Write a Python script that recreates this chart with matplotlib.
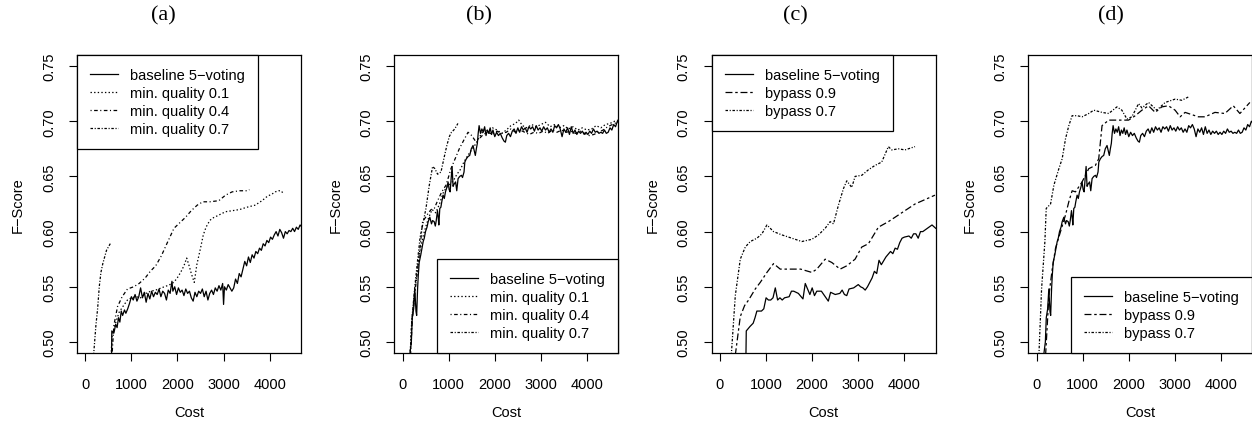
import matplotlib
import matplotlib.pyplot as plt

matplotlib.use("Agg")

plt.rcParams["font.family"] = ["Liberation Sans", "DejaVu Sans"]
plt.rcParams["lines.scale_dashes"] = False

# ---- data (cost, F-score) ----
base_a_x = [570, 575, 620, 660, 690, 720, 750, 780, 810, 850, 880, 920, 960, 1000, 1040, 1080,
            1120, 1160, 1200, 1240, 1280, 1320, 1360, 1400, 1440, 1480, 1520, 1560, 1600, 1640,
            1680, 1720, 1760, 1800, 1840, 1880, 1900, 1940, 1980, 2020, 2060, 2100, 2140, 2180,
            2220, 2260, 2300, 2340, 2380, 2420, 2460, 2500, 2540, 2580, 2620, 2660, 2700, 2740,
            2780, 2820, 2860, 2900, 2940, 2980, 3000, 3020, 3060, 3100, 3140, 3180, 3220, 3260,
            3300, 3340, 3380, 3420, 3460, 3500, 3540, 3580, 3620, 3660, 3700, 3740, 3780, 3820,
            3860, 3900, 3940, 3980, 4020, 4060, 4100, 4140, 4180, 4220, 4260, 4300, 4340, 4380,
            4420, 4460, 4500, 4540, 4580, 4620, 4660, 4700]
base_a_y = [0.488, 0.510, 0.508, 0.516, 0.513, 0.522, 0.518, 0.528, 0.524, 0.529, 0.526, 0.530,
            0.535, 0.541, 0.538, 0.543, 0.537, 0.541, 0.549, 0.540, 0.545, 0.536, 0.544, 0.539,
            0.546, 0.541, 0.545, 0.543, 0.548, 0.541, 0.546, 0.544, 0.538, 0.547, 0.544, 0.555,
            0.546, 0.550, 0.543, 0.549, 0.545, 0.547, 0.542, 0.548, 0.544, 0.546, 0.540, 0.537,
            0.545, 0.541, 0.546, 0.544, 0.548, 0.541, 0.546, 0.538, 0.544, 0.547, 0.543, 0.549,
            0.546, 0.551, 0.547, 0.553, 0.534, 0.550, 0.547, 0.552, 0.549, 0.546, 0.549, 0.557,
            0.553, 0.562, 0.559, 0.566, 0.573, 0.569, 0.577, 0.572, 0.579, 0.576, 0.582, 0.580,
            0.585, 0.583, 0.589, 0.587, 0.592, 0.590, 0.595, 0.593, 0.597, 0.600, 0.596, 0.602,
            0.599, 0.594, 0.600, 0.598, 0.601, 0.600, 0.603, 0.600, 0.604, 0.602, 0.606, 0.604]

q01_a_x = [560, 580, 640, 735, 830, 915, 1000, 1100, 1200, 1312, 1420, 1528, 1650, 1780, 1888,
           1980, 2068, 2140, 2200, 2260, 2300, 2364, 2420, 2500, 2560, 2620, 2700, 2753, 2850,
           3042, 3200, 3350, 3500, 3690, 3760, 3834, 3950, 4050, 4123, 4195, 4250, 4303]
q01_a_y = [0.488, 0.505, 0.515, 0.527, 0.533, 0.538, 0.540, 0.541, 0.540, 0.544, 0.546, 0.547,
           0.549, 0.551, 0.553, 0.557, 0.563, 0.569, 0.576, 0.568, 0.562, 0.554, 0.570, 0.585,
           0.597, 0.604, 0.610, 0.612, 0.614, 0.618, 0.619, 0.620, 0.622, 0.624, 0.626, 0.628,
           0.632, 0.634, 0.636, 0.637, 0.637, 0.634]

q04_a_x = [580, 620, 699, 800, 915, 1050, 1168, 1300, 1410, 1528, 1650, 1780, 1924, 2050, 2176,
           2300, 2430, 2551, 2700, 2897, 3042, 3186, 3350, 3510, 3560]
q04_a_y = [0.488, 0.515, 0.532, 0.541, 0.548, 0.550, 0.553, 0.558, 0.564, 0.569, 0.578, 0.590,
           0.603, 0.608, 0.613, 0.619, 0.624, 0.627, 0.627, 0.628, 0.633, 0.636, 0.637, 0.637,
           0.638]

q07_a_x = [180, 230, 267, 303, 339, 380, 420, 460, 500, 555]
q07_a_y = [0.488, 0.515, 0.530, 0.550, 0.563, 0.571, 0.577, 0.583, 0.586, 0.590]

base_bd_x = [145, 190, 210, 240, 265, 290, 305, 325, 340, 360, 395, 420, 447, 470, 497, 530, 555,
             591, 610, 627, 650, 685, 710, 730, 757, 775, 786, 807, 830, 850, 879, 905, 930, 960,
             987, 1010, 1031, 1074, 1095, 1117, 1150, 1175, 1204, 1240, 1276, 1300, 1333, 1350,
             1384, 1420, 1456, 1490, 1528, 1560, 1578, 1600, 1622, 1640, 1660, 1690, 1720, 1750,
             1780, 1810, 1840, 1870, 1900, 1930, 1960, 2000, 2040, 2080, 2120, 2160, 2200, 2230,
             2260, 2300, 2340, 2380, 2420, 2460, 2500, 2540, 2580, 2620, 2660, 2700, 2740, 2780,
             2820, 2860, 2900, 2940, 2980, 3020, 3060, 3100, 3140, 3180, 3220, 3260, 3300, 3340,
             3380, 3420, 3460, 3500, 3540, 3580, 3620, 3660, 3700, 3740, 3780, 3820, 3860, 3900,
             3940, 3980, 4020, 4060, 4100, 4140, 4180, 4220, 4260, 4300, 4340, 4380, 4420, 4460,
             4500, 4540, 4580, 4620, 4660, 4700]
base_bd_y = [0.485, 0.500, 0.522, 0.530, 0.548, 0.528, 0.524, 0.548, 0.560, 0.572, 0.579, 0.585,
             0.591, 0.594, 0.600, 0.604, 0.609, 0.613, 0.610, 0.607, 0.610, 0.609, 0.605, 0.610,
             0.619, 0.612, 0.606, 0.621, 0.622, 0.627, 0.633, 0.630, 0.636, 0.640, 0.645, 0.638,
             0.636, 0.659, 0.641, 0.643, 0.645, 0.637, 0.648, 0.650, 0.651, 0.649, 0.654, 0.663,
             0.666, 0.668, 0.669, 0.675, 0.678, 0.672, 0.669, 0.675, 0.680, 0.689, 0.696, 0.689,
             0.693, 0.690, 0.695, 0.687, 0.692, 0.689, 0.694, 0.688, 0.692, 0.686, 0.690, 0.687,
             0.689, 0.685, 0.682, 0.681, 0.687, 0.689, 0.686, 0.691, 0.693, 0.689, 0.694, 0.690,
             0.695, 0.692, 0.694, 0.690, 0.695, 0.693, 0.695, 0.691, 0.696, 0.692, 0.694, 0.691,
             0.695, 0.692, 0.694, 0.690, 0.693, 0.690, 0.696, 0.694, 0.697, 0.693, 0.686, 0.693,
             0.690, 0.694, 0.688, 0.695, 0.689, 0.692, 0.688, 0.691, 0.689, 0.691, 0.688, 0.690,
             0.688, 0.691, 0.689, 0.693, 0.690, 0.691, 0.689, 0.690, 0.689, 0.692, 0.689, 0.690,
             0.694, 0.692, 0.697, 0.695, 0.700, 0.698]

q01_b_x = [160, 200, 260, 320, 380, 440, 500, 560, 640, 720, 800, 880, 950, 1030, 1100, 1180,
           1250, 1330, 1400, 1480, 1550, 1620, 1700, 1780, 1850, 1950, 2050, 2150, 2250, 2350,
           2450, 2520, 2600, 2700, 2800, 2900, 3000, 3100, 3200, 3300, 3400, 3500, 3600, 3700,
           3800, 3900, 4000, 4100, 4200, 4300, 4400, 4500, 4600, 4680]
q01_b_y = [0.485, 0.520, 0.545, 0.565, 0.583, 0.595, 0.604, 0.612, 0.620, 0.617, 0.625, 0.635,
           0.640, 0.643, 0.646, 0.652, 0.656, 0.663, 0.668, 0.673, 0.677, 0.682, 0.688, 0.693,
           0.691, 0.694, 0.692, 0.689, 0.692, 0.696, 0.698, 0.701, 0.696, 0.694, 0.697, 0.695,
           0.697, 0.699, 0.695, 0.697, 0.694, 0.696, 0.693, 0.695, 0.692, 0.694, 0.692, 0.693,
           0.696, 0.694, 0.697, 0.698, 0.700, 0.701]

q04_b_x = [170, 210, 270, 330, 390, 434, 500, 560, 620, 688, 760, 850, 941, 1000, 1049, 1140,
           1230, 1330, 1420, 1500, 1580, 1660, 1750, 1850, 1950, 2050, 2150, 2250, 2350, 2450,
           2550, 2650, 2750, 2850, 2950, 3050, 3150, 3250, 3350, 3450, 3550, 3650, 3750, 3850,
           3950, 4050, 4150, 4250, 4350, 4450, 4550, 4650]
q04_b_y = [0.485, 0.520, 0.545, 0.568, 0.590, 0.609, 0.613, 0.617, 0.620, 0.621, 0.628, 0.636,
           0.642, 0.650, 0.657, 0.666, 0.675, 0.683, 0.690, 0.687, 0.682, 0.684, 0.688, 0.690,
           0.688, 0.691, 0.689, 0.690, 0.693, 0.690, 0.692, 0.690, 0.688, 0.690, 0.689, 0.691,
           0.689, 0.692, 0.690, 0.692, 0.690, 0.691, 0.689, 0.691, 0.689, 0.687, 0.688, 0.690,
           0.692, 0.695, 0.697, 0.699]

q07_b_x = [160, 200, 260, 320, 380, 440, 507, 579, 651, 700, 760, 833, 900, 960, 1013, 1060,
           1110, 1160, 1200]
q07_b_y = [0.485, 0.520, 0.548, 0.572, 0.595, 0.607, 0.621, 0.642, 0.659, 0.657, 0.652, 0.654,
           0.667, 0.678, 0.686, 0.690, 0.692, 0.695, 0.698]

base_c_x = [563, 570, 650, 720, 760, 800, 900, 950, 1000, 1050, 1100, 1150, 1200, 1250, 1300,
            1350, 1400, 1500, 1550, 1600, 1700, 1800, 1850, 1900, 1950, 2000, 2050, 2100, 2200,
            2300, 2350, 2400, 2500, 2600, 2650, 2700, 2750, 2800, 2900, 3000, 3050, 3100, 3150,
            3200, 3300, 3350, 3400, 3450, 3500, 3600, 3700, 3750, 3800, 3850, 3900, 3950, 4000,
            4100, 4150, 4200, 4250, 4300, 4350, 4400, 4500, 4600, 4680]
base_c_y = [0.488, 0.510, 0.514, 0.517, 0.522, 0.528, 0.528, 0.530, 0.540, 0.538, 0.538, 0.540,
            0.549, 0.538, 0.540, 0.538, 0.540, 0.541, 0.546, 0.546, 0.544, 0.539, 0.553, 0.548,
            0.543, 0.549, 0.542, 0.546, 0.546, 0.540, 0.537, 0.545, 0.543, 0.544, 0.547, 0.543,
            0.542, 0.548, 0.549, 0.552, 0.550, 0.549, 0.547, 0.550, 0.558, 0.564, 0.562, 0.574,
            0.570, 0.577, 0.582, 0.580, 0.585, 0.584, 0.590, 0.594, 0.595, 0.596, 0.594, 0.598,
            0.598, 0.594, 0.600, 0.600, 0.603, 0.606, 0.603]

byp09_c_x = [332, 440, 534, 621, 765, 874, 1018, 1162, 1307, 1560, 1750, 1993, 2101, 2282, 2426,
             2606, 2751, 2931, 3076, 3220, 3437, 3653, 3798, 4014, 4231, 4448, 4664]
byp09_c_y = [0.488, 0.523, 0.533, 0.538, 0.548, 0.554, 0.563, 0.571, 0.566, 0.566, 0.566, 0.563,
             0.566, 0.575, 0.572, 0.566, 0.569, 0.575, 0.586, 0.589, 0.604, 0.609, 0.613, 0.619,
             0.625, 0.629, 0.633]

byp07_c_x = [245, 332, 440, 549, 657, 801, 910, 1018, 1162, 1343, 1560, 1776, 1993, 2137, 2282,
             2390, 2462, 2570, 2679, 2751, 2859, 2931, 3076, 3220, 3365, 3509, 3653, 3726, 3870,
             4014, 4231]
byp07_c_y = [0.488, 0.542, 0.575, 0.586, 0.591, 0.594, 0.598, 0.606, 0.600, 0.597, 0.594, 0.591,
             0.593, 0.597, 0.603, 0.609, 0.607, 0.624, 0.639, 0.646, 0.640, 0.650, 0.651, 0.656,
             0.660, 0.663, 0.677, 0.674, 0.675, 0.674, 0.677]

byp09_d_x = [195, 267, 339, 411, 519, 627, 699, 771, 843, 987, 1131, 1276, 1348, 1420, 1564, 1852,
             1996, 2141, 2285, 2429, 2573, 2717, 2861, 3005, 3114, 3222, 3510, 3654, 3870, 4086,
             4267, 4411, 4627]
byp09_d_y = [0.488, 0.542, 0.566, 0.585, 0.600, 0.615, 0.627, 0.637, 0.636, 0.645, 0.657, 0.660,
             0.666, 0.696, 0.701, 0.701, 0.701, 0.705, 0.710, 0.714, 0.708, 0.713, 0.714, 0.710,
             0.704, 0.708, 0.704, 0.704, 0.708, 0.707, 0.714, 0.707, 0.717]

byp07_d_x = [50, 108, 180, 209, 303, 375, 483, 555, 627, 699, 771, 879, 987, 1131, 1240, 1420,
             1564, 1744, 1850, 1960, 2068, 2213, 2285, 2429, 2609, 2789, 3005, 3150, 3294]
byp07_d_y = [0.488, 0.548, 0.591, 0.621, 0.625, 0.642, 0.657, 0.666, 0.684, 0.696, 0.705, 0.705,
             0.704, 0.707, 0.710, 0.708, 0.707, 0.713, 0.710, 0.702, 0.704, 0.716, 0.712, 0.717,
             0.710, 0.717, 0.720, 0.719, 0.722]

x_ticks = [0, 1000, 2000, 3000, 4000]
y_ticks = [0.50, 0.55, 0.60, 0.65, 0.70, 0.75]
panel_titles = ["(a)", "(b)", "(c)", "(d)"]

# line styles (dash lengths in points)
SOLID = "-"
DOTTED = (0, (1.0, 1.6))
DOTDASH = (0, (0.8, 1.8, 2.6, 1.8))
DOTDOT = (0, (1.8, 1.2, 0.8, 1.2))
TWODASH = (0, (5.0, 2.0, 1.8, 2.0))

W, H = 1252, 427
fig = plt.figure(figsize=(W / 100, H / 100), dpi=100)

lefts = [77, 394.3, 711.7, 1028.3]
title_x = [163, 479, 795, 1111]
ax_w, ax_top, ax_bot = 224, 56, 354

panels = [
    ([(base_a_x, base_a_y, SOLID, "baseline 5\u2212voting"),
      (q01_a_x, q01_a_y, DOTTED, "min. quality 0.1"),
      (q04_a_x, q04_a_y, DOTDASH, "min. quality 0.4"),
      (q07_a_x, q07_a_y, DOTDOT, "min. quality 0.7")], "upper left"),
    ([(base_bd_x, base_bd_y, SOLID, "baseline 5\u2212voting"),
      (q01_b_x, q01_b_y, DOTTED, "min. quality 0.1"),
      (q04_b_x, q04_b_y, DOTDASH, "min. quality 0.4"),
      (q07_b_x, q07_b_y, DOTDOT, "min. quality 0.7")], "lower right"),
    ([(base_c_x, base_c_y, SOLID, "baseline 5\u2212voting"),
      (byp09_c_x, byp09_c_y, TWODASH, "bypass 0.9"),
      (byp07_c_x, byp07_c_y, DOTDOT, "bypass 0.7")], "upper left"),
    ([(base_bd_x, base_bd_y, SOLID, "baseline 5\u2212voting"),
      (byp09_d_x, byp09_d_y, TWODASH, "bypass 0.9"),
      (byp07_d_x, byp07_d_y, DOTDOT, "bypass 0.7")], "lower right"),
]

for i, (series, loc) in enumerate(panels):
    ax = fig.add_axes([lefts[i] / W, 1 - ax_bot / H, ax_w / W, (ax_bot - ax_top) / H])
    for xs, ys, ls, lab in series:
        ax.plot(xs, ys, color="black", linestyle=ls, linewidth=0.9, label=lab)

    ax.set_xlim(-180, 4680)
    ax.set_ylim(0.49, 0.76)
    ax.set_xticks(x_ticks)
    ax.set_yticks(y_ticks)
    ax.set_xticklabels([str(t) for t in x_ticks])
    ax.set_yticklabels([f"{t:.2f}" for t in y_ticks])
    ax.tick_params(axis="x", direction="out", length=5.5, width=0.8, pad=11.5, labelsize=10.5)
    ax.tick_params(axis="y", direction="out", length=6.0, width=0.8, pad=9.0, labelsize=10.5,
                   labelrotation=90)
    for lbl in ax.get_yticklabels():
        lbl.set_verticalalignment("center")
    for sp in ax.spines.values():
        sp.set_linewidth(0.9)

    ax.set_xlabel("Cost", fontsize=10.5, va="center")
    ax.xaxis.set_label_coords(0.5, (ax_bot - 413) / (ax_bot - ax_top))
    ax.set_ylabel("F\u2212Score", fontsize=10.5, va="center")
    ax.yaxis.set_label_coords(-59 / ax_w, 0.5)

    leg = ax.legend(loc=loc, borderaxespad=0, fancybox=False, framealpha=1,
                    edgecolor="black", fontsize=10.5, handlelength=1.9,
                    handletextpad=0.85, labelspacing=0.27, borderpad=0.9)
    leg.get_frame().set_linewidth(0.9)

    fig.text(title_x[i] / W, 1 - 16 / H, panel_titles[i], family="Liberation Serif",
             fontsize=16, ha="center", va="center")

fig.savefig("out.png", dpi=100)
